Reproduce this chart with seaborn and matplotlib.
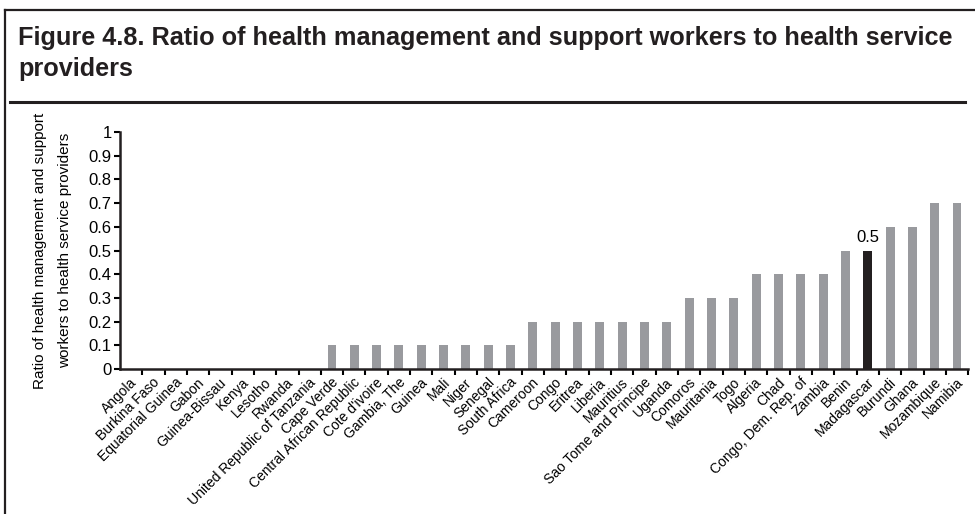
import numpy as np
import pandas as pd
import seaborn as sns
import matplotlib.pyplot as plt
import matplotlib.transforms as mtransforms
from matplotlib.lines import Line2D

countries = ['Angola', 'Burkina Faso', 'Equatorial Guinea', 'Gabon', 'Guinea-Bissau',
             'Kenya', 'Lesotho', 'Rwanda', 'United Republic of Tanzania', 'Cape Verde',
             'Central African Republic', "Cote d'ivoire", 'Gambia, The', 'Guinea', 'Mali',
             'Niger', 'Senegal', 'South Africa', 'Cameroon', 'Congo', 'Eritrea', 'Liberia',
             'Mauritius', 'Sao Tome and Principe', 'Uganda', 'Comoros', 'Mauritania', 'Togo',
             'Algeria', 'Chad', 'Congo, Dem. Rep. of', 'Zambia', 'Benin', 'Madagascar',
             'Burundi', 'Ghana', 'Mozambique', 'Namibia']
ratios = [0, 0, 0, 0, 0, 0, 0, 0, 0,
          0.1, 0.1, 0.1, 0.1, 0.1, 0.1, 0.1, 0.1, 0.1,
          0.2, 0.2, 0.2, 0.2, 0.2, 0.2, 0.2,
          0.3, 0.3, 0.3,
          0.4, 0.4, 0.4, 0.4,
          0.5, 0.5,
          0.6, 0.6, 0.7, 0.7]
highlight = 'Madagascar'

df = pd.DataFrame({'country': countries, 'ratio': ratios})
palette = {c: ('#231f20' if c == highlight else '#999a9e') for c in countries}

plt.rcParams['font.family'] = ['Liberation Sans', 'DejaVu Sans']
fig = plt.figure(figsize=(9.75, 5.14), dpi=100)
ax = fig.add_axes([0.123, 0.282, 0.870, 0.461])

sns.barplot(data=df, x='country', y='ratio', hue='country', palette=palette,
            legend=False, width=0.4, saturation=1, ax=ax)

ax.set_xlim(-0.5, len(countries) - 0.5)
ax.set_ylim(0, 1)
ax.set_yticks(np.arange(0, 1.01, 0.1))
ax.set_yticklabels(['0'] + [f'{v:.1f}' for v in np.arange(0.1, 0.95, 0.1)] + ['1'], fontsize=12)
ax.set_xticks(range(len(countries)))
ax.set_xticklabels(countries, rotation=45, ha='right', va='center', rotation_mode='anchor', fontsize=10)
ax.tick_params(axis='x', length=0, pad=8)
shift = mtransforms.ScaledTranslation(4 / 100, 0, fig.dpi_scale_trans)
for lab in ax.get_xticklabels():
    lab.set_transform(lab.get_transform() + shift)
ax.set_xticks(np.arange(0.5, len(countries) - 0.5 + 0.01, 1), minor=True)
ax.tick_params(axis='x', which='minor', length=4, width=1.5, direction='out')
ax.tick_params(axis='y', length=4, width=1.5, pad=2)
for s in ['top', 'right']:
    ax.spines[s].set_visible(False)
for s in ['left', 'bottom']:
    ax.spines[s].set_linewidth(1.8)
    ax.spines[s].set_color('#231f20')
ax.set_xlabel('')
ax.set_ylabel('Ratio of health management and support\nworkers to health service providers',
              fontsize=11, labelpad=12, linespacing=2.0)

i = countries.index(highlight)
ax.annotate(f'{ratios[i]}', (i, ratios[i]), xytext=(0, 4), textcoords='offset points',
            ha='center', va='bottom', fontsize=12)

fig.text(18 / 975, 1 - 26 / 514, 'Figure 4.8. Ratio of health management and support workers to health service\nproviders',
         fontsize=18.2, fontweight='bold', va='top', ha='left', linespacing=1.35, color='#231f20')
fig.add_artist(Line2D([10 / 975, 965 / 975], [1 - 102 / 514] * 2, color='#231f20', lw=2.2))
fig.add_artist(Line2D([5 / 975, 5 / 975], [0, 1 - 10 / 514], color='#231f20', lw=1.6))
fig.add_artist(Line2D([5 / 975, 1], [1 - 10 / 514] * 2, color='#231f20', lw=1.6))

fig.savefig('out.png', dpi=100)
